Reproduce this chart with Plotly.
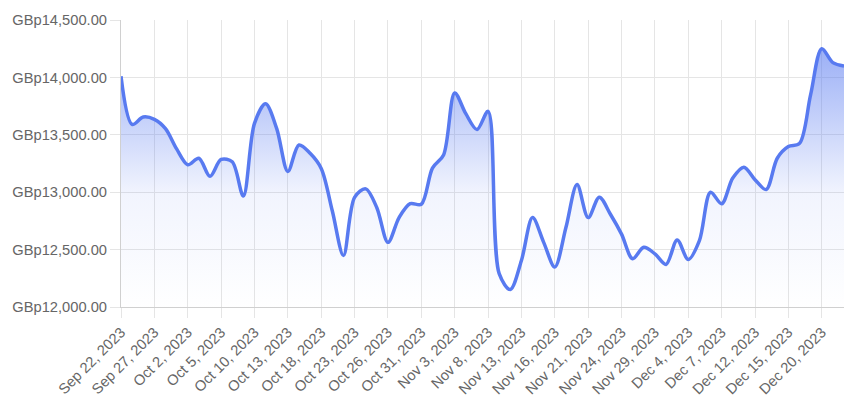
import plotly.graph_objects as go

dates = [
    "Sep 22, 2023", "Sep 25, 2023", "Sep 26, 2023", "Sep 27, 2023", "Sep 28, 2023", "Sep 29, 2023",
    "Oct 2, 2023", "Oct 3, 2023", "Oct 4, 2023", "Oct 5, 2023", "Oct 6, 2023",
    "Oct 9, 2023", "Oct 10, 2023", "Oct 11, 2023", "Oct 12, 2023", "Oct 13, 2023",
    "Oct 16, 2023", "Oct 17, 2023", "Oct 18, 2023", "Oct 19, 2023", "Oct 20, 2023",
    "Oct 23, 2023", "Oct 24, 2023", "Oct 25, 2023", "Oct 26, 2023", "Oct 27, 2023",
    "Oct 30, 2023", "Oct 31, 2023", "Nov 1, 2023", "Nov 2, 2023", "Nov 3, 2023",
    "Nov 6, 2023", "Nov 7, 2023", "Nov 8, 2023", "Nov 9, 2023", "Nov 10, 2023",
    "Nov 13, 2023", "Nov 14, 2023", "Nov 15, 2023", "Nov 16, 2023", "Nov 17, 2023",
    "Nov 20, 2023", "Nov 21, 2023", "Nov 22, 2023", "Nov 23, 2023", "Nov 24, 2023",
    "Nov 27, 2023", "Nov 28, 2023", "Nov 29, 2023", "Nov 30, 2023", "Dec 1, 2023",
    "Dec 4, 2023", "Dec 5, 2023", "Dec 6, 2023", "Dec 7, 2023", "Dec 8, 2023",
    "Dec 11, 2023", "Dec 12, 2023", "Dec 13, 2023", "Dec 14, 2023", "Dec 15, 2023",
    "Dec 18, 2023", "Dec 19, 2023", "Dec 20, 2023", "Dec 21, 2023", "Dec 22, 2023",
]

prices = [
    14010, 13590, 13655, 13635, 13554, 13377,
    13239, 13296, 13138, 13285, 13265,
    12966, 13600, 13770, 13554, 13181,
    13411, 13339, 13207, 12836, 12448,
    12955, 13029, 12865, 12563, 12779,
    12900, 12895, 13210, 13325, 13865,
    13684, 13546, 13704, 12290, 12153,
    12405, 12779, 12563, 12348, 12692,
    13066, 12779, 12957, 12808, 12635,
    12420, 12520, 12463, 12371, 12584,
    12414, 12578, 13000, 12899, 13123,
    13218, 13109, 13023, 13296, 13397,
    13425, 13850, 14250, 14129, 14100,
]

tick_labels = dates[::3]
y_ticks = [12000, 12500, 13000, 13500, 14000, 14500]
y_tick_text = ["GBp{:,.2f}".format(v) for v in y_ticks]

LINE = "rgb(88,122,240)"
GRID = "#e5e5e5"
FONT = dict(family="Liberation Sans, Arial, sans-serif", size=14.7, color="#666666")

fig = go.Figure()
fig.add_trace(go.Scatter(
    x=dates, y=prices, mode="lines",
    line=dict(color=LINE, width=3.5, shape="spline", smoothing=0.9),
    fill="tozeroy",
    fillgradient=dict(
        type="vertical",
        start=12000, stop=14500,
        colorscale=[[0, "rgba(88,122,240,0)"], [0.4, "rgba(88,122,240,0.08)"], [1, "rgba(88,122,240,0.7)"]],
    ),
    hoverinfo="x+y",
    showlegend=False,
))

fig.update_layout(
    width=860, height=410,
    margin=dict(l=120, r=16, t=17, b=103),
    paper_bgcolor="white", plot_bgcolor="white",
    font=FONT,
)
fig.update_xaxes(
    type="category",
    categoryorder="array", categoryarray=dates,
    range=[0, len(dates) - 1],
    tickmode="array", tickvals=tick_labels, ticktext=tick_labels,
    tickangle=-45,
    showgrid=True, gridcolor=GRID, gridwidth=1,
    ticks="outside", ticklen=10, tickcolor=GRID,
    showline=True, linecolor="#d0d0d0", linewidth=1,
    zeroline=False,
)
fig.update_yaxes(
    range=[12000, 14500],
    tickmode="array", tickvals=y_ticks, ticktext=y_tick_text,
    showgrid=True, gridcolor=GRID, gridwidth=1,
    ticks="outside", ticklen=10, tickcolor=GRID,
    showline=True, linecolor="#d0d0d0", linewidth=1,
    zeroline=False,
)

fig.write_html("out.html")
